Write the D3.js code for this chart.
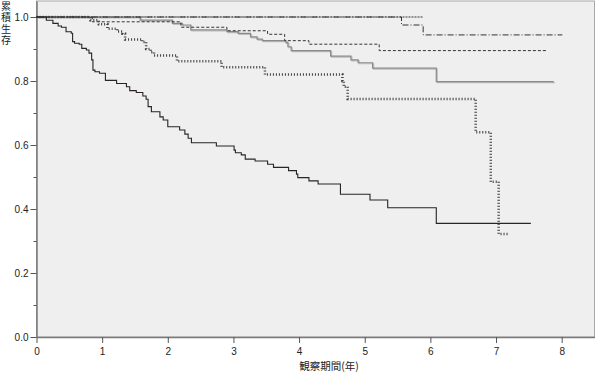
<!DOCTYPE html>
<html>
<head>
<meta charset="utf-8">
<script src="https://cdn.jsdelivr.net/npm/d3@7"></script>
<style>
    body { margin: 0; background: #fff; }
    text { font-family: "Liberation Sans", Arial, sans-serif; fill: #222; }
    .jp { font-family: "Noto Sans CJK JP", sans-serif; }
</style>
</head>
<body>
<div id="chart"></div>
<script>

// step data: [time (years), cumulative survival after the drop]
let solidSteps = [[0.15,0.99],[0.25,0.98],[0.33,0.972],[0.38,0.968],[0.45,0.954],[0.53,0.949],[0.55,0.923],[0.58,0.918],[0.65,0.915],[0.69,0.902],[0.76,0.897],[0.80,0.887],[0.84,0.866],[0.86,0.834],[0.89,0.829],[0.96,0.824],[1.05,0.802],[1.22,0.792],[1.37,0.782],[1.42,0.770],[1.52,0.764],[1.62,0.753],[1.67,0.743],[1.70,0.720],[1.75,0.704],[1.88,0.688],[1.93,0.678],[2.0,0.657],[2.18,0.647],[2.26,0.634],[2.31,0.621],[2.36,0.607],[2.74,0.597],[3.01,0.584],[3.03,0.576],[3.12,0.569],[3.18,0.556],[3.33,0.55],[3.52,0.54],[3.61,0.53],[3.84,0.52],[3.96,0.509],[3.98,0.498],[4.15,0.488],[4.29,0.478],[4.63,0.446],[5.08,0.428],[5.35,0.404],[6.09,0.355]];
let solidEnd = 7.53;

let thickDotSteps = [[0.82,0.99],[0.95,0.977],[1.08,0.963],[1.23,0.955],[1.31,0.948],[1.35,0.93],[1.61,0.922],[1.67,0.90],[1.74,0.89],[1.79,0.88],[2.14,0.862],[2.82,0.843],[3.48,0.82],[4.66,0.80],[4.68,0.782],[4.74,0.744],[6.69,0.64],[6.92,0.485],[7.04,0.322]];
let thickDotEnd = 7.18;

let dashSteps = [[0.85,0.985],[2.2,0.968],[2.9,0.957],[3.52,0.946],[3.78,0.926],[4.15,0.915],[5.22,0.895]];
let dashEnd = 7.76;

let graySteps = [[1.58,0.99],[2.07,0.98],[2.22,0.975],[2.35,0.96],[2.9,0.954],[3.07,0.949],[3.26,0.938],[3.36,0.931],[3.44,0.926],[3.80,0.92],[3.83,0.907],[3.88,0.895],[4.48,0.878],[4.79,0.866],[4.90,0.857],[5.12,0.84],[6.09,0.798]];
let grayEnd = 7.88;

let dashDotSteps = [[5.56,0.975],[5.89,0.944]];
let dashDotEnd = 8.01;

let fineDotSteps = [];
let fineDotEnd = 5.89;

let xTicks = [0, 1, 2, 3, 4, 5, 6, 7, 8];
let yTicks = [0.0, 0.2, 0.4, 0.6, 0.8, 1.0];
let yMinorTicks = [0.1, 0.3, 0.5, 0.7, 0.9];

let yLabel = "累積生存";
let xLabel = "観察期間(年)";

let width = 596, height = 372;

let svg = d3.select("#chart").append("svg")
    .attr("width", width)
    .attr("height", height);

let x = d3.scaleLinear().domain([0, 8.5]).range([36.5, 594.5]);
let y = d3.scaleLinear().domain([0, 1.05]).range([337, 1]);

// plot background + border
svg.append("rect")
    .attr("x", x(0)).attr("y", y(1.05))
    .attr("width", x(8.5) - x(0)).attr("height", y(0) - y(1.05))
    .attr("fill", "#eeefee")
    .attr("stroke", "#a8a8a8")
    .attr("stroke-width", 1);

// axes
let xAxis = svg.append("g")
    .attr("transform", `translate(0, ${y(0)})`)
    .call(d3.axisBottom(x).tickValues(xTicks).tickFormat(d3.format("d")).tickSize(6).tickSizeOuter(0));

let yAxis = svg.append("g")
    .attr("transform", `translate(${x(0)}, 0)`)
    .call(d3.axisLeft(y).tickValues(yTicks).tickFormat(d3.format(".1f")).tickSize(6).tickSizeOuter(0));

svg.append("g")
    .attr("transform", `translate(${x(0)}, 0)`)
    .call(d3.axisLeft(y).tickValues(yMinorTicks).tickFormat("").tickSize(3).tickSizeOuter(0))
    .select(".domain").remove();

svg.selectAll(".domain").attr("stroke", "#7a7a7a").attr("stroke-width", 1.5);
svg.selectAll(".tick line").attr("stroke", "#555");
svg.selectAll(".tick text")
    .attr("font-size", 10)
    .attr("font-family", "'Liberation Sans', Arial, sans-serif")
    .attr("fill", "#222");
xAxis.selectAll(".tick text").attr("dy", "0.85em");
yAxis.selectAll(".tick text").attr("x", -8);

// axis titles, y title written top-to-bottom
svg.append("text")
    .attr("class", "jp")
    .attr("x", 6)
    .attr("y", 1)
    .attr("font-size", 10)
    .style("writing-mode", "vertical-rl")
    .style("letter-spacing", "1.5px")
    .text(yLabel);

svg.append("text")
    .attr("class", "jp")
    .attr("x", 329)
    .attr("y", 370)
    .attr("text-anchor", "middle")
    .attr("font-size", 10.5)
    .text(xLabel);

// survival curves
let line = d3.line()
    .x(d => x(d[0]))
    .y(d => y(d[1]))
    .curve(d3.curveStepAfter);

function curvePoints(steps, end) {
    let pts = [[0, 1]].concat(steps);
    pts.push([end, pts[pts.length - 1][1]]);
    return pts;
}

let curves = svg.append("g");

// gray curve drawn as a doubled line
curves.append("path")
    .attr("d", line(curvePoints(graySteps, grayEnd)))
    .attr("transform", "translate(1,1)")
    .attr("fill", "none").attr("stroke", "#bdbdbd").attr("stroke-width", 1.2);
curves.append("path")
    .attr("d", line(curvePoints(graySteps, grayEnd)))
    .attr("fill", "none").attr("stroke", "#8a8a8a").attr("stroke-width", 1.2);

curves.append("path")
    .attr("d", line(curvePoints(dashSteps, dashEnd)))
    .attr("fill", "none").attr("stroke", "#333").attr("stroke-width", 1)
    .attr("stroke-dasharray", "3,2");

curves.append("path")
    .attr("d", line(curvePoints(dashDotSteps, dashDotEnd)))
    .attr("fill", "none").attr("stroke", "#333").attr("stroke-width", 1)
    .attr("stroke-dasharray", "6,2,1,2");

curves.append("path")
    .attr("d", line(curvePoints(fineDotSteps, fineDotEnd)))
    .attr("fill", "none").attr("stroke", "#333").attr("stroke-width", 1)
    .attr("stroke-dasharray", "2,1");

curves.append("path")
    .attr("d", line(curvePoints(thickDotSteps, thickDotEnd)))
    .attr("fill", "none").attr("stroke", "#3a3a3a").attr("stroke-width", 2.5)
    .attr("stroke-dasharray", "1,2");

curves.append("path")
    .attr("d", line(curvePoints(solidSteps, solidEnd)))
    .attr("fill", "none").attr("stroke", "#2a2424").attr("stroke-width", 1.1);

</script>
</body>
</html>
